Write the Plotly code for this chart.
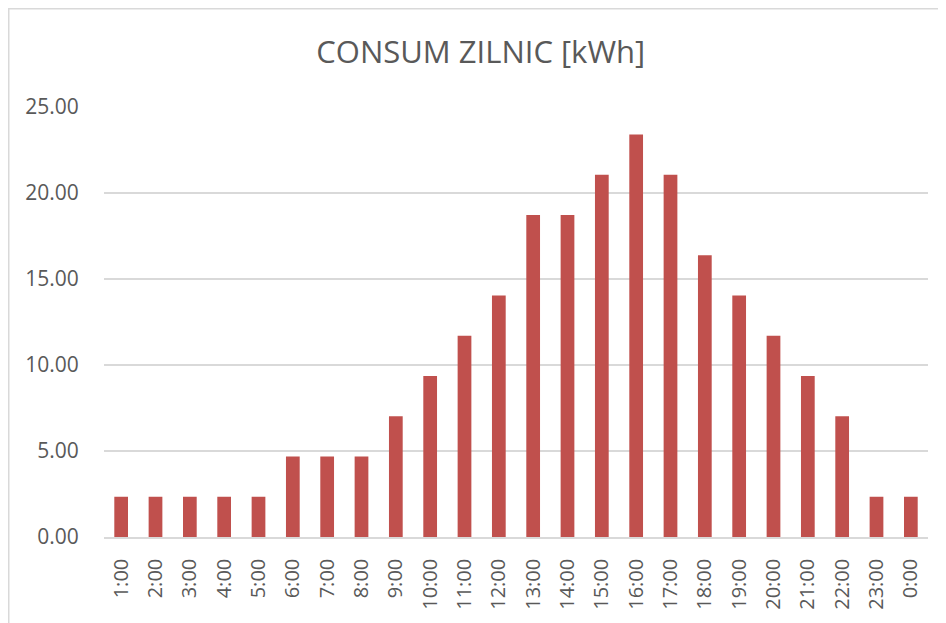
import plotly.graph_objects as go

hours = ["1:00", "2:00", "3:00", "4:00", "5:00", "6:00", "7:00", "8:00", "9:00", "10:00",
         "11:00", "12:00", "13:00", "14:00", "15:00", "16:00", "17:00", "18:00", "19:00",
         "20:00", "21:00", "22:00", "23:00", "0:00"]
consum = [2.34, 2.34, 2.34, 2.34, 2.34, 4.68, 4.68, 4.68, 7.02, 9.36,
          11.70, 14.04, 18.72, 18.72, 21.06, 23.40, 21.06, 16.38, 14.04,
          11.70, 9.36, 7.02, 2.34, 2.34]
y_ticks = [0, 5, 10, 15, 20, 25]

# page has an 8px body margin, so the figure starts at (8, 8)
W, H = 938, 615
L, R, T, B = 96, 18, 99, 86
pw, ph = W - L - R, H - T - B

def px(x):
    return (x - L) / pw

def py(y):
    return (H - B - y) / ph

fig = go.Figure()
fig.add_trace(go.Bar(x=hours, y=consum, marker=dict(color="#C0504D", line=dict(width=0)),
                     hoverinfo="x+y"))

fig.update_layout(
    width=W, height=H,
    margin=dict(l=L, r=R, t=T, b=B),
    paper_bgcolor="white", plot_bgcolor="white",
    bargap=0.6,
    showlegend=False,
    font=dict(family="Open Sans, Liberation Sans, sans-serif", color="#595959"),
    title=dict(text="CONSUM ZILNIC [kWh]", x=0.504, xref="container", xanchor="center",
               y=1 - 44 / H, yref="container", yanchor="middle",
               font=dict(size=31, color="#595959", family="Open Sans, sans-serif")),
    xaxis=dict(type="category", tickangle=-90, tickfont=dict(size=20, color="#595959"),
               showgrid=False, showline=True, linecolor="#D9D9D9", linewidth=1.5,
               ticks="outside", ticklen=12, tickcolor="rgba(0,0,0,0)"),
    yaxis=dict(range=[0, 25], tickvals=y_ticks, tickformat=".2f",
               tickfont=dict(size=21, color="#595959"), showgrid=True,
               gridcolor="#D9D9D9", gridwidth=1.5, zeroline=False, showline=False,
               ticks="outside", ticklen=20, tickcolor="rgba(0,0,0,0)"),
    shapes=[dict(type="rect", xref="paper", yref="paper",
                 x0=px(0.75), x1=px(960), y0=py(640), y1=py(0.75),
                 line=dict(color="#D9D9D9", width=1.5), fillcolor="rgba(0,0,0,0)",
                 layer="below")],
)

fig.write_html("out.html")
